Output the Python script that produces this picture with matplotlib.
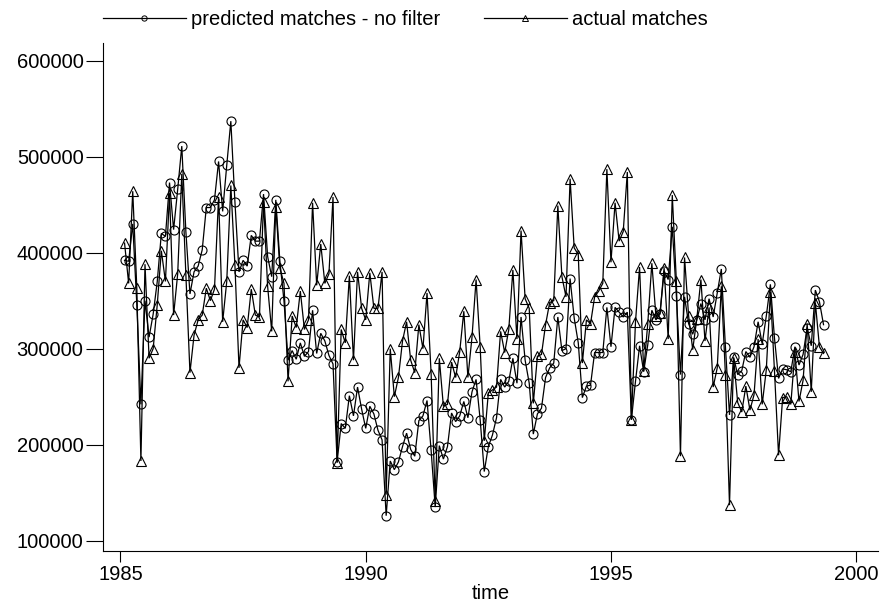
import numpy as np
import matplotlib
matplotlib.use('Agg')
import matplotlib.pyplot as plt
from matplotlib.lines import Line2D

# monthly series, values in thousands, starting Feb 1985
start_year = 1985
start_month = 2

predicted = [
    392, 391, 430, 346, 242, 350, 312, 336, 370, 420,
    417, 473, 424, 466, 511, 422, 357, 380, 386, 403,
    447, 447, 455, 495, 443, 491, 537, 453, 380, 392,
    386, 418, 412, 412, 461, 396, 375, 455, 391, 350,
    288, 298, 289, 306, 292, 297, 340, 295, 316, 308,
    293, 284, 182, 222, 217, 251, 230, 260, 237, 217,
    240, 232, 215, 205, 126, 183, 174, 182, 198, 212,
    195, 188, 225, 230, 246, 194, 135, 199, 185, 198,
    233, 224, 230, 245, 228, 255, 268, 226, 172, 198,
    210, 228, 268, 260, 266, 290, 264, 333, 288, 264,
    211, 232, 238, 270, 280, 285, 333, 298, 300, 373,
    332, 306, 249, 261, 262, 296, 296, 296, 343, 302,
    343, 338, 333, 338, 226, 266, 303, 276, 304, 340,
    330, 336, 381, 372, 427, 355, 273, 354, 326, 315,
    330, 347, 330, 352, 333, 358, 383, 302, 231, 291,
    273, 277, 297, 291, 302, 328, 305, 334, 367, 311,
    269, 279, 278, 276, 302, 283, 294, 322, 303, 361,
    349, 325,
]

actual = [
    410, 368, 464, 363, 183, 388, 290, 300, 346, 402,
    370, 462, 335, 378, 482, 377, 275, 314, 330, 335,
    363, 350, 362, 458, 328, 370, 470, 387, 280, 330,
    322, 362, 335, 333, 453, 365, 318, 448, 384, 368,
    266, 334, 322, 360, 320, 330, 452, 366, 409, 368,
    378, 458, 181, 320, 306, 376, 288, 380, 342, 330,
    379, 342, 342, 380, 148, 300, 250, 270, 308, 328,
    288, 275, 325, 300, 358, 274, 141, 290, 240, 242,
    286, 270, 297, 339, 270, 312, 372, 302, 204, 254,
    257, 260, 318, 296, 320, 382, 310, 423, 352, 342,
    243, 292, 294, 325, 348, 350, 449, 375, 354, 477,
    405, 398, 285, 330, 326, 354, 360, 368, 487, 390,
    452, 412, 422, 484, 226, 328, 385, 277, 326, 389,
    334, 337, 384, 310, 460, 370, 188, 395, 334, 299,
    331, 372, 308, 343, 260, 280, 365, 273, 137, 290,
    244, 234, 261, 236, 252, 310, 242, 278, 359, 277,
    189, 249, 250, 242, 297, 245, 267, 326, 255, 348,
    302, 295,
]

year_ticks = [1985, 1990, 1995, 2000]
value_ticks = [100000, 200000, 300000, 400000, 500000, 600000]

plt.rcParams['font.family'] = ['Liberation Sans', 'DejaVu Sans']
plt.rcParams['font.size'] = 14.5


def make_time(n):
    months = np.arange(n) + (start_month - 1)
    return start_year + months / 12.0


def plot_matches():
    t = make_time(len(actual))
    pred = np.array(predicted) * 1000
    act = np.array(actual) * 1000

    fig = plt.figure(figsize=(8.8, 6.05), dpi=100)
    ax = fig.add_axes([0.117, 0.0893, 0.881, 0.8397])

    ax.plot(t, pred, color='black', linewidth=0.9, marker='o', markersize=6.5,
            markerfacecolor='none', markeredgecolor='black', markeredgewidth=0.8,
            solid_joinstyle='miter')
    ax.plot(t, act, color='black', linewidth=0.9, marker='^', markersize=7.5,
            markerfacecolor='none', markeredgecolor='black', markeredgewidth=0.8,
            solid_joinstyle='miter')

    ax.set_xlim(1984.643, 2000.449)
    ax.set_ylim(89270, 618440)
    ax.set_xticks(year_ticks)
    ax.set_yticks(value_ticks)
    ax.set_yticklabels([str(v) for v in value_ticks])
    ax.set_xlabel('time', labelpad=0)

    ax.spines['top'].set_visible(False)
    ax.spines['right'].set_visible(False)
    ax.spines['left'].set_linewidth(0.8)
    ax.spines['bottom'].set_linewidth(0.8)
    ax.tick_params(axis='x', direction='out', length=8, width=0.8, pad=2)
    ax.tick_params(axis='y', direction='out', length=12, width=0.8, pad=2)

    handles = [
        Line2D([0], [0], color='black', linewidth=0.9, marker='o', markersize=3.8,
               markerfacecolor='none', markeredgecolor='black', markeredgewidth=0.7),
        Line2D([0], [0], color='black', linewidth=0.9, marker='^', markersize=4.3,
               markerfacecolor='none', markeredgecolor='black', markeredgewidth=0.7),
    ]
    fig.legend(handles, ['predicted matches - no filter', 'actual matches'],
               loc='center left', bbox_to_anchor=(0.117, 0.967), ncol=2,
               frameon=False, handlelength=4.1, handletextpad=0.25,
               columnspacing=2.2, borderpad=0, borderaxespad=0)

    fig.savefig('out.png', dpi=100)


if __name__ == '__main__':
    plot_matches()
